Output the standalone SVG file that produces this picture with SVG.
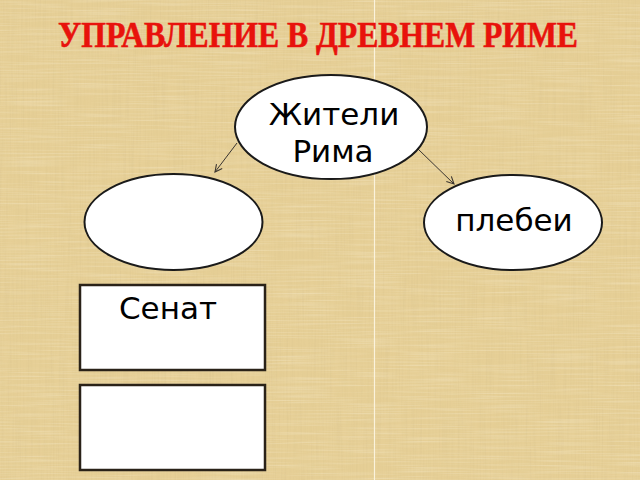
<svg xmlns="http://www.w3.org/2000/svg" width="640" height="480" viewBox="0 0 640 480">
<style>
.node{fill:#ffffff;stroke:#1a1a1a;stroke-width:2}
.box{fill:#ffffff;stroke:#2a2218;stroke-width:2.5}
.lbl{font-family:"DejaVu Sans","Noto Sans",sans-serif;font-size:31px;fill:#000000;text-anchor:middle}
.conn{fill:none;stroke:#3a3530;stroke-width:1;marker-end:url(#arr)}
.title{font-family:"Liberation Serif","Times New Roman",serif;font-weight:bold;font-size:35px;fill:#e8120c;stroke:#e8120c;stroke-width:0.6}
</style>
<defs>
<marker id="arr" viewBox="0 0 10 10" refX="9" refY="5" markerWidth="9" markerHeight="9" markerUnits="userSpaceOnUse" orient="auto">
<path d="M1,1 L9,5 L1,9" fill="none" stroke="#3a3530" stroke-width="1.2"/>
</marker>
<filter id="vstreak" x="0" y="0" width="100%" height="100%">
<feTurbulence type="fractalNoise" baseFrequency="0.6 0.015" numOctaves="2" seed="3"/>
<feColorMatrix type="matrix" values="0 0 0 0 0.66  0 0 0 0 0.52  0 0 0 0 0.25  0 0 0 1.4 -0.55"/>
</filter>
<filter id="hstreak" x="0" y="0" width="100%" height="100%">
<feTurbulence type="fractalNoise" baseFrequency="0.015 0.6" numOctaves="2" seed="7"/>
<feColorMatrix type="matrix" values="0 0 0 0 1  0 0 0 0 0.95  0 0 0 0 0.8  0 0 0 1.4 -0.6"/>
</filter>
</defs>
<g id="background">
<rect x="0" y="0" width="640" height="480" fill="#e6cf96"/>
<rect x="0" y="0" width="640" height="480" filter="url(#vstreak)" opacity="0.4"/>
<rect x="0" y="0" width="640" height="480" filter="url(#hstreak)" opacity="0.4"/>
<line x1="374.5" y1="0" x2="374.5" y2="480" stroke="#fbf3dc" stroke-width="1.2"/>
</g>
<g id="title">
<text class="title" x="58" y="47" textLength="520" lengthAdjust="spacingAndGlyphs">УПРАВЛЕНИЕ В ДРЕВНЕМ РИМЕ</text>
</g>
<g id="connectors">
<line class="conn" x1="237" y1="143" x2="215" y2="172"/>
<line class="conn" x1="418" y1="149" x2="454" y2="184"/>
</g>
<g id="node-zhiteli">
<ellipse class="node" cx="331" cy="127" rx="96" ry="52"/>
<text class="lbl" x="334" y="125">Жители</text>
<text class="lbl" x="333" y="162">Рима</text>
</g>
<g id="node-left">
<ellipse class="node" cx="173.5" cy="222" rx="89" ry="48"/>
</g>
<g id="node-plebei">
<ellipse class="node" cx="513" cy="222.5" rx="89" ry="47.5"/>
<text class="lbl" x="514" y="231">плебеи</text>
</g>
<g id="node-senat">
<rect class="box" x="80" y="285" width="185" height="85"/>
<text class="lbl" x="168" y="319">Сенат</text>
</g>
<g id="node-box2">
<rect class="box" x="80" y="385" width="185" height="85"/>
</g>
</svg>
